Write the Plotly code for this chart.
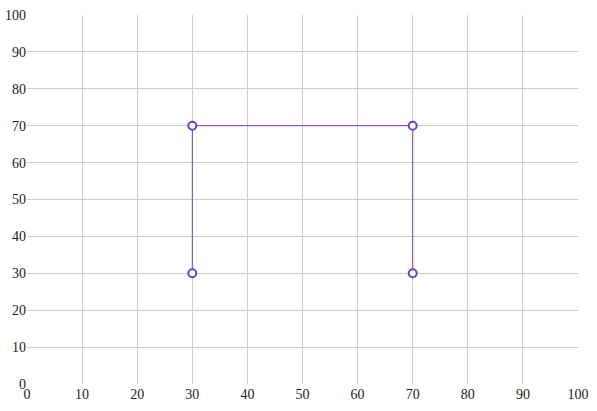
import plotly.graph_objects as go

x_vals = [30, 30, 70, 70]
y_vals = [30, 70, 70, 30]
tick_vals = [0, 10, 20, 30, 40, 50, 60, 70, 80, 90, 100]

color = "#6f42c1"
fig = go.Figure(go.Scatter(
    x=x_vals, y=y_vals, mode="lines+markers",
    line=dict(color=color, width=1),
    marker=dict(symbol="circle", size=8, color="white", line=dict(color=color, width=2)),
    showlegend=False,
    cliponaxis=False,
))
axis = dict(range=[0, 100], tickvals=tick_vals, showgrid=True, gridcolor="#cccccc", gridwidth=1,
            zeroline=False, showline=False, ticks="", ticklen=0, automargin=False,
            ticklabeloverflow="allow",
            tickfont=dict(family="Liberation Serif, Times New Roman, serif", size=14, color="#222"))
fig.update_layout(
    width=597, height=411,
    margin=dict(l=27, r=19, t=15, b=27),
    plot_bgcolor="white", paper_bgcolor="white",
    xaxis=axis, yaxis=axis,
)
fig.write_html("out.html", config={"displayModeBar": False},
               post_script="document.body.style.margin='0';")
